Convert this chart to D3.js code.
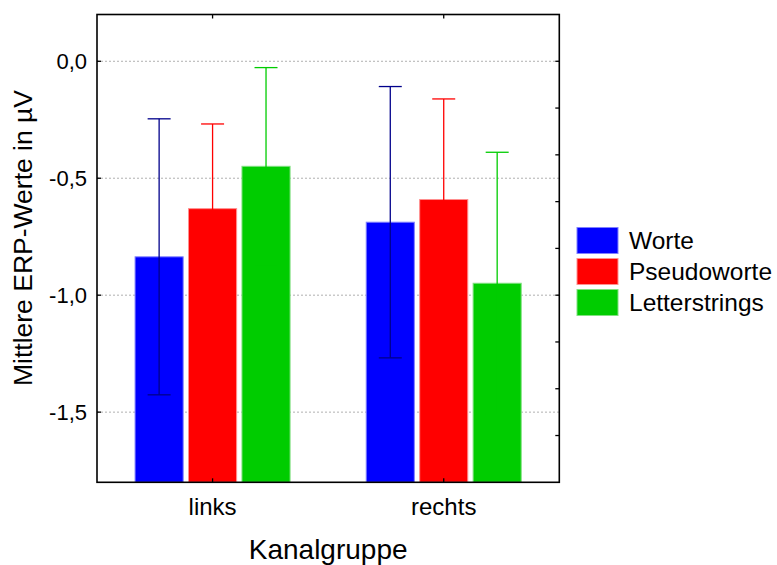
<!DOCTYPE html>
<html>
<head>
<meta charset="utf-8">
<script src="https://cdnjs.cloudflare.com/ajax/libs/d3/7.8.5/d3.min.js"></script>
<style>
  body { margin: 0; background: #fff; }
  text { font-family: "Liberation Sans", Arial, sans-serif; fill: #000; }
</style>
</head>
<body>
<svg id="chart" width="777" height="565"></svg>
<script>
var groups = ["links", "rechts"];
var series = ["Worte", "Pseudoworte", "Letterstrings"];
var colors = ["#0000ff", "#ff0000", "#00cc00"];
var errColors = ["#00008b", "#ff0000", "#00cc00"];
var edgeColors = ["#8080ff", "#ff9090", "#80e080"];

// mean per group, one array per series
var worte = [-0.836, -0.688];
var pseudoworte = [-0.630, -0.591];
var letterstrings = [-0.449, -0.949];
// error half-width
var worteErr = [0.59, 0.58];
var pseudoworteErr = [0.362, 0.43];
var letterstringsErr = [0.422, 0.56];

var yTicks = [0, -0.5, -1.0, -1.5];
var yMinorTicks = [0, -0.2, -0.4, -0.6, -0.8, -1.0, -1.2, -1.4, -1.6];

var means = [worte, pseudoworte, letterstrings];
var errs = [worteErr, pseudoworteErr, letterstringsErr];

var svg = d3.select("#chart");
var L = 97, R = 559.3, T = 14.5, B = 482.3;

var y = d3.scaleLinear().domain([-1.8, 0.2]).range([B, T]);
var x = d3.scaleBand().domain(groups).range([L, R]);
var xs = d3.scaleBand().domain(series).range([0, 155]).paddingInner(0.1);

function fmt(v) {
    return d3.format(".1f")(v).replace(".", ",").replace("−", "-");
}

// grid
svg.append("g").selectAll("line")
    .data(yTicks).enter().append("line")
    .attr("x1", L).attr("x2", R)
    .attr("y1", function(d) { return y(d); })
    .attr("y2", function(d) { return y(d); })
    .attr("stroke", "#b0b0b0")
    .attr("stroke-width", 1)
    .attr("stroke-dasharray", "2,2");

// data rows
var rows = [];
for (var s = 0; s < series.length; s++) {
    for (var g = 0; g < groups.length; g++) {
        rows.push({s: s, g: groups[g], v: means[s][g], e: errs[s][g]});
    }
}

function barX(d) {
    return x(d.g) + x.bandwidth() / 2 - 77.5 + xs(series[d.s]);
}

svg.append("g").selectAll("rect")
    .data(rows).enter().append("rect")
    .attr("x", barX)
    .attr("y", function(d) { return y(d.v); })
    .attr("width", xs.bandwidth())
    .attr("height", function(d) { return B - y(d.v); })
    .attr("fill", function(d) { return colors[d.s]; })
    .attr("stroke", function(d) { return edgeColors[d.s]; })
    .attr("stroke-width", 1);

// error bars
var eb = svg.append("g").selectAll("g")
    .data(rows).enter().append("g")
    .attr("stroke", function(d) { return errColors[d.s]; })
    .attr("stroke-width", 1.3);
eb.append("line")
    .attr("x1", function(d) { return barX(d) + xs.bandwidth() / 2; })
    .attr("x2", function(d) { return barX(d) + xs.bandwidth() / 2; })
    .attr("y1", function(d) { return y(d.v + d.e); })
    .attr("y2", function(d) { return y(d.v - d.e); });
[1, -1].forEach(function(sign) {
    eb.append("line")
        .attr("x1", function(d) { return barX(d) + xs.bandwidth() / 2 - 11.5; })
        .attr("x2", function(d) { return barX(d) + xs.bandwidth() / 2 + 11.5; })
        .attr("y1", function(d) { return y(d.v + sign * d.e); })
        .attr("y2", function(d) { return y(d.v + sign * d.e); });
});

// ticks (inward)
var ticks = svg.append("g").attr("stroke", "#000").attr("stroke-width", 1.3);
ticks.selectAll(".yl").data(yTicks).enter().append("line")
    .attr("x1", L).attr("x2", L + 4)
    .attr("y1", function(d) { return y(d); }).attr("y2", function(d) { return y(d); });
ticks.selectAll(".yr").data(yMinorTicks).enter().append("line")
    .attr("x1", R - 4).attr("x2", R)
    .attr("y1", function(d) { return y(d); }).attr("y2", function(d) { return y(d); });
ticks.selectAll(".xt").data(groups).enter().append("line")
    .attr("x1", function(d) { return x(d) + x.bandwidth() / 2; })
    .attr("x2", function(d) { return x(d) + x.bandwidth() / 2; })
    .attr("y1", T).attr("y2", T + 4);
ticks.selectAll(".xb").data(groups).enter().append("line")
    .attr("x1", function(d) { return x(d) + x.bandwidth() / 2; })
    .attr("x2", function(d) { return x(d) + x.bandwidth() / 2; })
    .attr("y1", B - 4).attr("y2", B);

// frame
svg.append("rect")
    .attr("x", L).attr("y", T)
    .attr("width", R - L).attr("height", B - T)
    .attr("fill", "none")
    .attr("stroke", "#000")
    .attr("stroke-width", 1.6);

// tick labels
svg.append("g").selectAll("text")
    .data(yTicks).enter().append("text")
    .attr("x", 87)
    .attr("y", function(d) { return y(d); })
    .attr("dy", "0.36em")
    .attr("text-anchor", "end")
    .style("font-size", "22px")
    .text(fmt);

svg.append("g").selectAll("text")
    .data(groups).enter().append("text")
    .attr("x", function(d) { return x(d) + x.bandwidth() / 2; })
    .attr("y", 515)
    .attr("text-anchor", "middle")
    .style("font-size", "24px")
    .text(function(d) { return d; });

// axis titles
svg.append("text")
    .attr("x", (L + R) / 2)
    .attr("y", 559)
    .attr("text-anchor", "middle")
    .style("font-size", "28px")
    .text("Kanalgruppe");

svg.append("text")
    .attr("transform", "translate(32,238) rotate(-90)")
    .attr("text-anchor", "middle")
    .style("font-size", "26.5px")
    .text("Mittlere ERP-Werte in µV");

// legend
var leg = svg.append("g").selectAll("g")
    .data(series).enter().append("g")
    .attr("transform", function(d, i) { return "translate(577," + (227.5 + i * 31) + ")"; });
leg.append("rect")
    .attr("width", 41).attr("height", 26)
    .attr("fill", function(d, i) { return colors[i]; })
    .attr("stroke", function(d, i) { return edgeColors[i]; })
    .attr("stroke-width", 1);
leg.append("text")
    .attr("x", 52).attr("y", 13)
    .attr("dy", "0.36em")
    .style("font-size", "24.5px")
    .text(function(d) { return d; });
</script>
</body>
</html>
